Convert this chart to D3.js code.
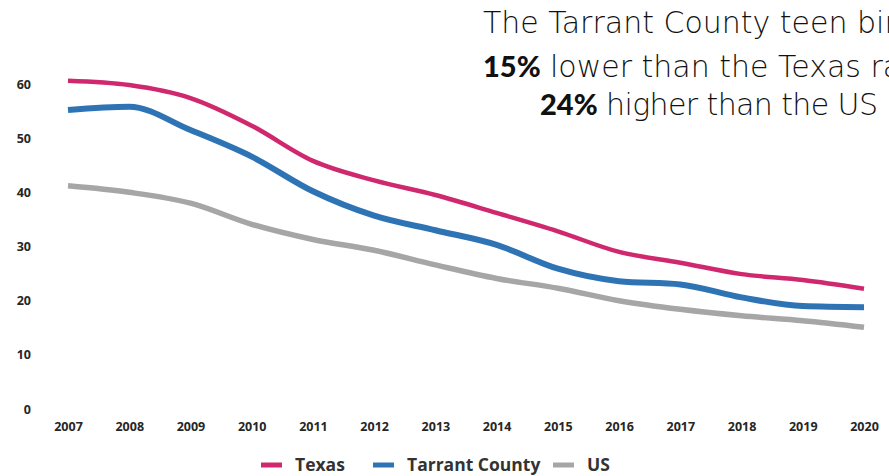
<!DOCTYPE html>
<html><head><meta charset="utf-8">
<script src="https://cdn.jsdelivr.net/npm/d3@7"></script>
<style>
html,body{margin:0;padding:0;background:#fff;overflow:hidden;}
svg{display:block;}
</style></head>
<body>
<svg id="chart" width="889" height="476"></svg>
<script>
const years = [2007,2008,2009,2010,2011,2012,2013,2014,2015,2016,2017,2018,2019,2020];
const texas =   [60.6,59.8,57.4,52.3,45.8,42.2,39.5,36.2,32.8,29.0,27.0,24.9,23.8,22.2];
const tarrant = [55.2,55.8,51.5,46.6,40.2,35.7,33.0,30.3,25.9,23.6,23.0,20.6,19.0,18.8];
const us =      [41.2,40.0,38.0,34.1,31.3,29.3,26.6,24.1,22.3,20.0,18.4,17.2,16.3,15.1];
const yTicks = [0,10,20,30,40,50,60];
const seriesNames = ["Texas","Tarrant County","US"];
const seriesColors = ["#d0286f","#2e74b5","#a6a6a6"];
const seriesWidths = [4.5,6,5.5];
const titleLines = ["The Tarrant County teen birth rate is", "lower than the Texas rate and", "higher than the US rate"];
const titleBold = ["", "15%", "24%"];

const svg = d3.select("#chart");
const x = d3.scalePoint().domain(years).range([68, 864]);
const y = d3.scaleLinear().domain([0,60]).range([409, 84]);

const tickFont = "'Open Sans', sans-serif";

// y axis
const yAxis = svg.append("g").attr("transform","translate(31,0)")
  .call(d3.axisLeft(y).tickValues(yTicks).tickSize(0).tickPadding(0));
yAxis.select(".domain").remove();
yAxis.selectAll("text").attr("font-family",tickFont).attr("font-weight","bold")
  .attr("font-size",12.5).attr("fill","#262626");

// x axis
const xAxis = svg.append("g").attr("transform","translate(0,422)")
  .call(d3.axisBottom(x).tickSize(0).tickPadding(0).tickFormat(d3.format("d")));
xAxis.select(".domain").remove();
xAxis.selectAll("text").attr("font-family",tickFont).attr("font-weight","bold")
  .attr("font-size",12.5).attr("fill","#262626");

// lines
const allSeries = [texas, tarrant, us];
const line = d3.line().x((d,i)=>x(years[i])).y(d=>y(d)).curve(d3.curveMonotoneX);
[2,1,0].forEach(k=>{
  svg.append("path").datum(allSeries[k])
    .attr("d", line).attr("fill","none")
    .attr("stroke", seriesColors[k]).attr("stroke-width", seriesWidths[k])
    .attr("stroke-linejoin","round");
});

// legend
const legendX = [261, 373, 553];
const leg = svg.append("g");
seriesNames.forEach((n,i)=>{
  leg.append("line").attr("x1",legendX[i]).attr("x2",legendX[i]+21)
    .attr("y1",465).attr("y2",465).attr("stroke",seriesColors[i]).attr("stroke-width",5);
  leg.append("text").attr("x",legendX[i]+34).attr("y",471)
    .attr("font-family","'Open Sans', sans-serif").attr("font-weight","bold")
    .attr("font-size",17.5).attr("fill","#333").text(n);
});

// title text
const tf = "'DejaVu Sans', sans-serif";
const bf = "Lato, 'Open Sans', sans-serif";
const t = svg.append("g").attr("font-family",tf).attr("font-size",30).attr("fill","#111");
t.append("text").attr("x",483).attr("y",33).attr("font-weight",200).text(titleLines[0]);
const l2 = t.append("text").attr("x",483).attr("y",77);
l2.append("tspan").attr("font-family",bf).attr("font-weight",900).attr("font-size",29).text(titleBold[1]);
l2.append("tspan").attr("x",550).attr("font-weight",200).text(titleLines[1]);
const l3 = t.append("text").attr("x",540).attr("y",115);
l3.append("tspan").attr("font-family",bf).attr("font-weight",900).attr("font-size",29).text(titleBold[2]);
l3.append("tspan").attr("x",606).attr("font-weight",200).attr("letter-spacing",-0.6).text(titleLines[2]);
</script>
</body></html>
